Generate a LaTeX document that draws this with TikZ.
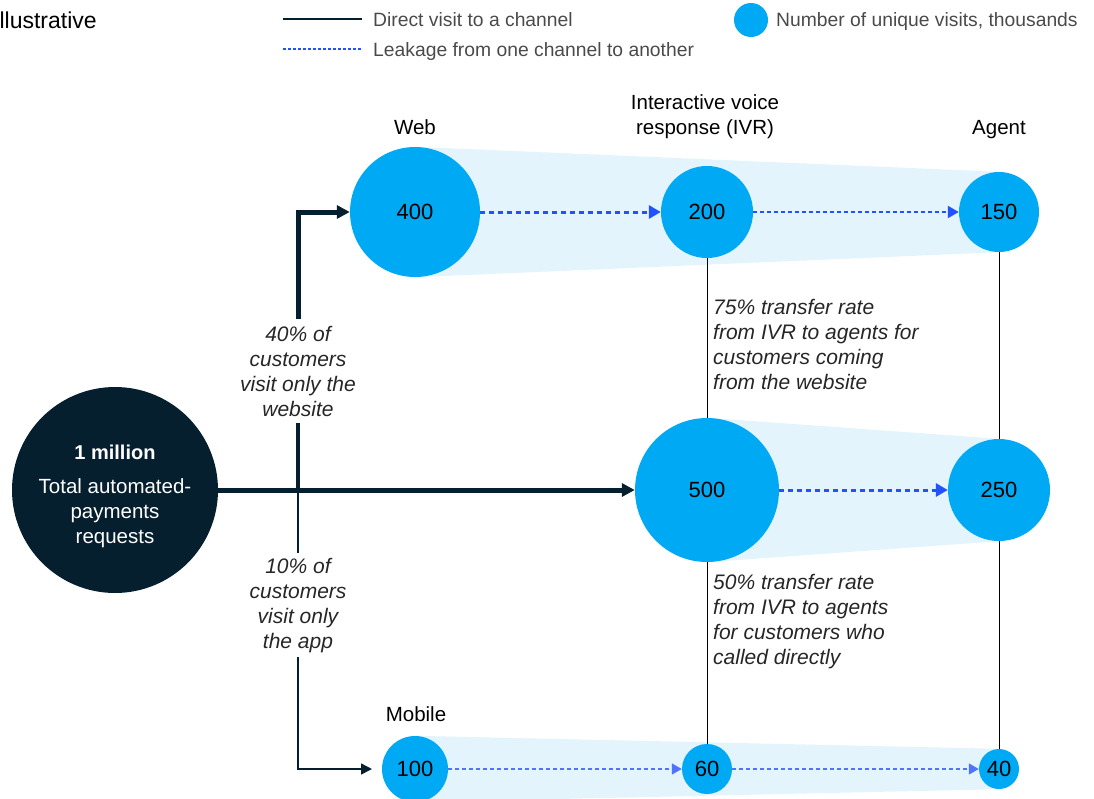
\documentclass[tikz,border=0pt]{standalone}
\usepackage{fontspec}
\setmainfont{Liberation Sans}
\usetikzlibrary{arrows.meta}
\definecolor{navy}{HTML}{061F2F}
\definecolor{cblue}{HTML}{00A9F4}
\definecolor{bandc}{HTML}{E3F4FC}
\definecolor{leak}{HTML}{2251FF}
\definecolor{legtxt}{HTML}{4A4A4A}
\pgfdeclarelayer{bg}
\pgfsetlayers{bg,main}
\begin{document}
\begin{tikzpicture}[x=1pt,y=-1pt,
  bub/.style={circle,fill=cblue,inner sep=0pt,font=\fontsize{22}{26}\selectfont},
  lbl/.style={font=\fontsize{20.5}{25}\selectfont,inner sep=0pt,align=center},
  note/.style={font=\fontsize{21}{25}\selectfont\itshape,inner sep=0pt,text=black!85},
  leg/.style={font=\fontsize{19.3}{23}\selectfont,inner sep=0pt,anchor=west,text=legtxt},
  direct/.style={navy,line width=5pt,-{Triangle[length=13pt,width=13pt]}},
  directthin/.style={navy,line width=1.5pt},
  leakthick/.style={leak,line width=3pt,dash pattern=on 5pt off 4pt,-{Triangle[length=12pt,width=13pt]}},
  leakthin/.style={leak,line width=2pt,dash pattern=on 4pt off 3pt,-{Triangle[length=11pt,width=12pt]}},
  leakfine/.style={leak!80,line width=1.5pt,dash pattern=on 4pt off 3pt,-{Triangle[length=10pt,width=11pt]}},
  transfer/.style={black,line width=1pt},
  bandfill/.style={fill=bandc}
]
\useasboundingbox (0,0) rectangle (1094,798);
\clip (0,0) rectangle (1094,798);

% legend
\node[font=\fontsize{23}{27}\selectfont,inner sep=0pt,anchor=west] (illus) at (-7,20) {Illustrative};
\coordinate (l1a) at (283,19); \coordinate (l1b) at (362,19);
\coordinate (l2a) at (283,49); \coordinate (l2b) at (362,49);
\draw[directthin] (l1a) -- (l1b);
\draw[leak,line width=1.3pt,dash pattern=on 3pt off 2pt] (l2a) -- (l2b);
\node[leg] (legdirect) at (373,20) {Direct visit to a channel};
\node[leg] (legleak) at (373,52) {Leakage from one channel to another};
\node[circle,fill=cblue,minimum size=34pt,inner sep=0pt] (legcirc) at (751,20) {};
\node[leg] (legnum) at (776,22) {Number of unique visits, thousands};

% column labels
\node[lbl] (hweb) at (415,127) {Web};
\node[lbl] (hivr) at (705,117) {Interactive voice\\response (IVR)};
\node[lbl] (hagent) at (999,130) {Agent};
\node[lbl] (hmob) at (416,714) {Mobile};

% bubbles
\node[bub,minimum size=130pt] (web) at (415,212) {400};
\node[bub,minimum size=92pt] (ivr) at (707,212) {200};
\node[bub,minimum size=80pt] (agw) at (999,212) {150};
\node[bub,minimum size=144pt] (ivd) at (707,490) {500};
\node[bub,minimum size=102pt] (agd) at (999,490) {250};
\node[bub,minimum size=66pt] (mob) at (415,769) {100};
\node[bub,minimum size=50pt] (ivm) at (707,769) {60};
\node[bub,minimum size=40pt] (agm) at (999,769) {40};

% total
\node[circle,fill=navy,minimum size=206pt,inner sep=0pt] (tot) at (115,490) {};
\node[lbl,text=white,font=\fontsize{20}{25}\selectfont\bfseries] (totnum) at (115,452) {1 million};
\node[lbl,text=white] (tottxt) at (115,513) {Total automated-\\payments\\requests};

% bands
\begin{pgfonlayer}{bg}
\fill[bandfill] (web.north) -- (agw.north) -- (agw.south) -- (web.south) -- cycle;
\fill[bandfill] (ivd.north) -- (agd.north) -- (agd.south) -- (ivd.south) -- cycle;
\fill[bandfill] (mob.north) -- (agm.north) -- (agm.south) -- (mob.south) -- cycle;
\end{pgfonlayer}

% annotations
\node[note,align=center] (n40) at (298,371) {40\% of\\customers\\visit only the\\website};
\node[note,align=center] (n10) at (298,606) {10\% of\\customers\\visit only\\the app};
\node[note,align=left,anchor=west] (n75) at (713,344) {75\% transfer rate\\from IVR to agents for\\customers coming\\from the website};
\node[note,align=left,anchor=west] (n50) at (713,622) {50\% transfer rate\\from IVR to agents\\for customers who\\called directly};

% direct visits
\coordinate (wtop) at (298,319);
\coordinate (wmid) at (298,423);
\coordinate (wjoin) at (298,490);
\coordinate (mjoin) at (298,492);
\coordinate (mmid) at (298,553);
\coordinate (mbot) at (298,657);
\coordinate (mend) at (372,769);
\draw[direct] (tot.east) -- (ivd.west);
\draw[direct] (wtop) |- (web.west);
\draw[navy,line width=4pt] (wmid) -- (wjoin);
\draw[directthin] (mjoin) -- (mmid);
\draw[directthin,-{Triangle[length=11pt,width=11pt]}] (mbot) |- (mend);

% leakage
\draw[leakthick] (web.east) -- (ivr.west);
\draw[leakthin] (ivr.east) -- (agw.west);
\draw[leakthick] (ivd.east) -- (agd.west);
\draw[leakfine] (mob.east) -- (ivm.west);
\draw[leakfine] (ivm.east) -- (agm.west);

% transfers
\draw[transfer] (ivr.south) -- (ivd.north);
\draw[transfer] (ivd.south) -- (ivm.north);
\draw[transfer] (agw.south) -- (agd.north);
\draw[transfer] (agd.south) -- (agm.north);
\end{tikzpicture}
\end{document}
